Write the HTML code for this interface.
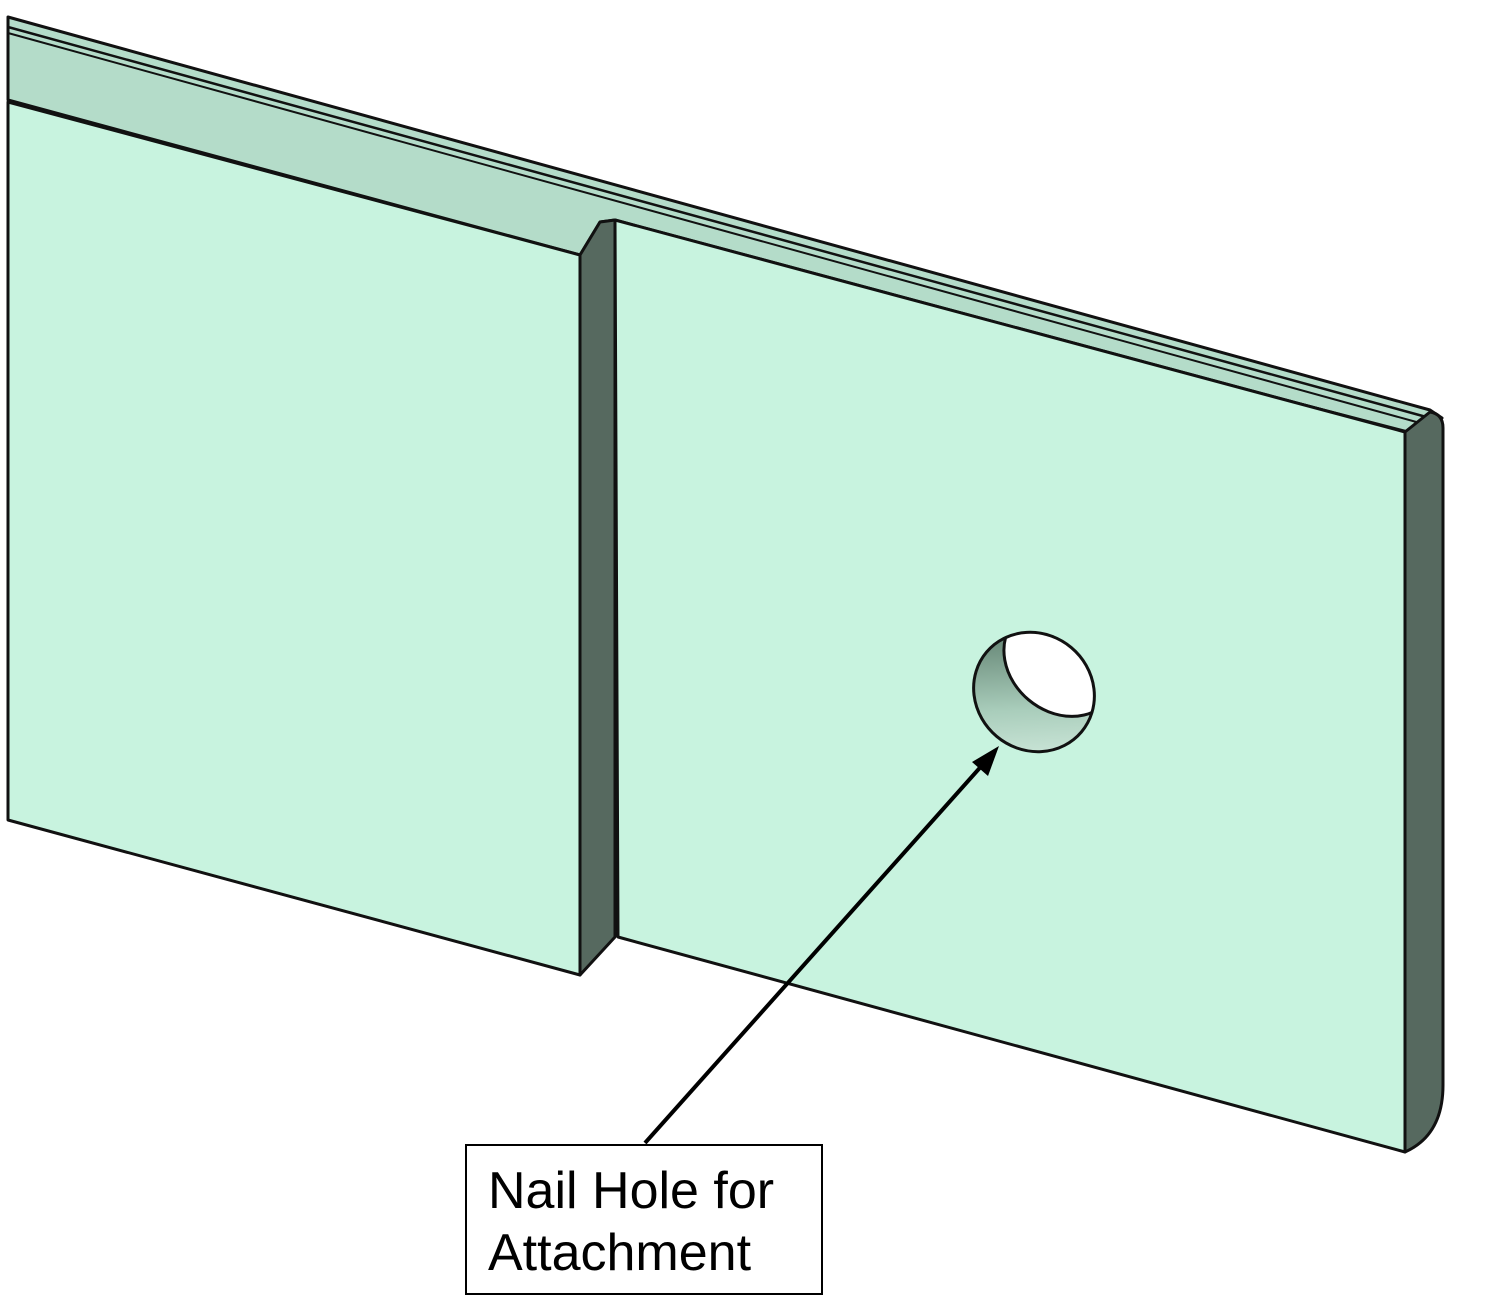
<!DOCTYPE html>
<html><head><style>body{margin:0;background:#fff}svg{display:block}</style></head><body>
<svg width="1500" height="1312" viewBox="0 0 1500 1312" xmlns="http://www.w3.org/2000/svg">
<defs>
<linearGradient id="g" x1="0" y1="0" x2="1" y2="1">
<stop offset="0" stop-color="#4f6e5e"/><stop offset="0.6" stop-color="#a9cdbb"/><stop offset="1" stop-color="#d8efe3"/>
</linearGradient>
<clipPath id="hc"><ellipse cx="1034" cy="692" rx="62" ry="58" transform="rotate(40 1034 692)"/></clipPath>
</defs>
<g stroke="#111" stroke-width="3" stroke-linejoin="round">
<polygon points="8,17 1430,410 1442,418 1405,432 615,220 600,222 580,255 8,100" fill="#b4dcc9"/>
<line x1="8" y1="27" x2="1430" y2="418" stroke-width="2.5"/>
<line x1="8" y1="33" x2="1420" y2="423" stroke-width="2"/>
<line x1="600" y1="222" x2="1410" y2="432" stroke-width="2"/>
<polygon points="8,102 580,255 580,975 8,820" fill="#c8f3df"/>
<polygon points="580,255 600,222 615,220 615,937 580,975" fill="#56695f"/>
<polygon points="615,220 1405,432 1405,1152 618,937" fill="#c8f3df"/>
<path d="M1405,432 L1430,412 Q1443,414 1443,428 L1443,1085 Q1443,1135 1405,1152 Z" fill="#56695f"/>
</g>
<ellipse cx="1034" cy="692" rx="62" ry="58" transform="rotate(40 1034 692)" fill="url(#g)"/>
<g clip-path="url(#hc)">
<ellipse cx="1062" cy="660" rx="62" ry="52" transform="rotate(40 1062 660)" fill="#fff" stroke="#111" stroke-width="3"/>
</g>
<ellipse cx="1034" cy="692" rx="62" ry="58" transform="rotate(40 1034 692)" fill="none" stroke="#111" stroke-width="3"/>
<line x1="645" y1="1143" x2="985" y2="762" stroke="#000" stroke-width="4"/>
<polygon points="999,746 972,762 988,776" fill="#000"/>
<rect x="466" y="1145" width="356" height="149" fill="#fff" stroke="#000" stroke-width="2"/>
<text x="488" y="1208" font-family="Liberation Sans, sans-serif" font-size="52">Nail Hole for</text>
<text x="488" y="1270" font-family="Liberation Sans, sans-serif" font-size="52">Attachment</text>
</svg>
</body></html>
